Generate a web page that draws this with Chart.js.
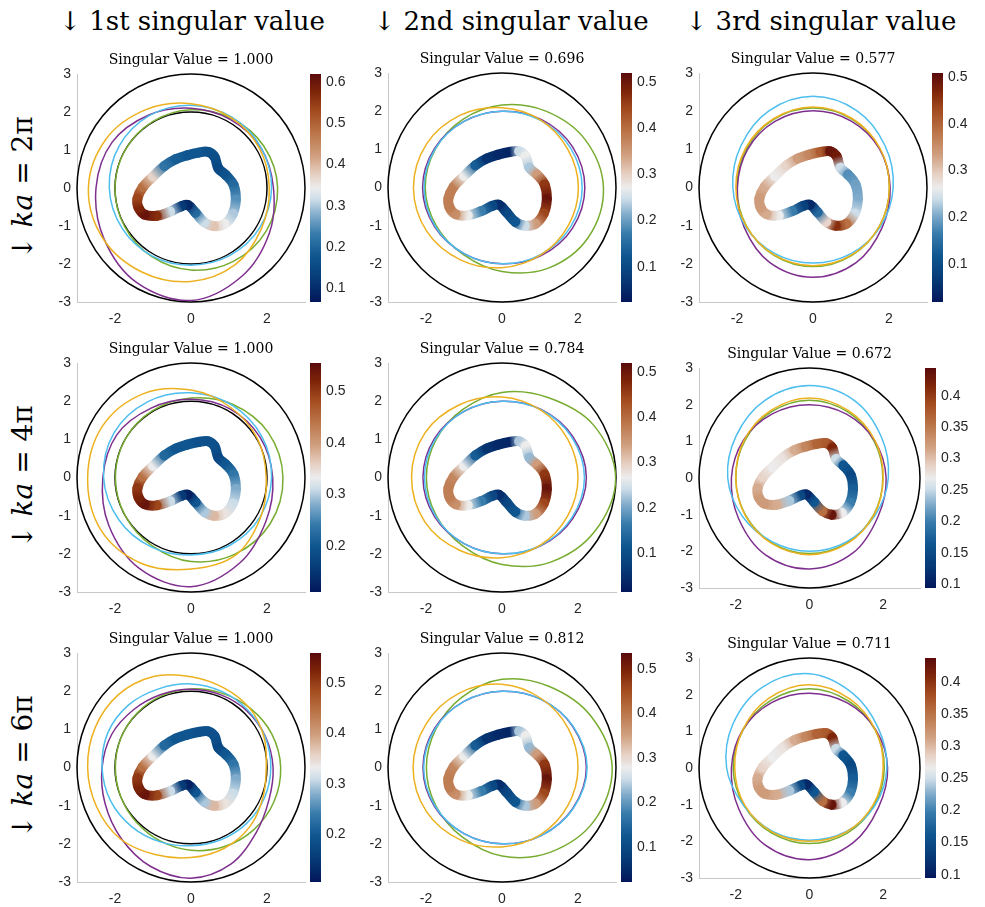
<!DOCTYPE html>
<html>
<head>
<meta charset="utf-8">
<script src="https://cdn.jsdelivr.net/npm/chart.js@4"></script>
<style>
  html, body { margin:0; padding:0; background:#fff; }
  body { width:985px; height:907px; position:relative; overflow:hidden; }
  canvas { position:absolute; }
  .hdr { position:absolute; font-family:'DejaVu Serif', serif; font-size:26px; color:#000; white-space:nowrap; transform:translate(-50%,-50%); line-height:1; }
  .rowlab { position:absolute; font-family:'DejaVu Serif', serif; font-size:28px; color:#000; white-space:nowrap; transform:translate(-50%,-50%) rotate(-90deg); line-height:1; }
</style>
</head>
<body>
<script>
// ---------------- DATA ----------------
const columnHeaders = ['↓ 1st singular value', '↓ 2nd singular value', '↓ 3rd singular value'];
const rowLabels = ['2π', '4π', '6π'];
const singularValues = ['1.000', '0.696', '0.577', '1.000', '0.784', '0.672', '1.000', '0.812', '0.711'];

const xTicks = [-2, 0, 2];
const yTicks = [-3, -2, -1, 0, 1, 2, 3];

// obstacle boundary (thick coloured curve)
const kiteX = [-1.41, -1.27, -1.0, -0.7, -0.4, -0.1, 0.2, 0.45, 0.62, 0.72, 0.92, 1.12, 1.18, 1.1, 0.88, 0.6, 0.35, 0.12, -0.08, -0.25, -0.55, -0.9, -1.22, -1.38];
const kiteY = [-0.28, 0.02, 0.3, 0.58, 0.76, 0.86, 0.93, 0.95, 0.82, 0.52, 0.34, 0.08, -0.3, -0.68, -0.95, -1.0, -0.9, -0.65, -0.45, -0.48, -0.62, -0.73, -0.7, -0.52];

// reference circle radii
const circlesCol1 = [3, 2];
const circlesOther = [3];

// colour values along the boundary
const valR1C1 = [0.537, 0.482, 0.371, 0.221, 0.188, 0.177, 0.177, 0.166, 0.160, 0.149, 0.166, 0.205, 0.249, 0.299, 0.343, 0.387, 0.315, 0.205, 0.094, 0.121, 0.315, 0.565, 0.603, 0.576];
const valR1C2 = [0.380, 0.380, 0.272, 0.133, 0.064, 0.049, 0.044, 0.247, 0.272, 0.232, 0.346, 0.460, 0.504, 0.445, 0.346, 0.247, 0.123, 0.098, 0.054, 0.098, 0.173, 0.272, 0.361, 0.380];
const valR1C3 = [0.337, 0.323, 0.264, 0.288, 0.337, 0.362, 0.410, 0.493, 0.484, 0.240, 0.181, 0.196, 0.205, 0.240, 0.386, 0.459, 0.288, 0.142, 0.044, 0.079, 0.166, 0.264, 0.323, 0.337];
const valR2C1 = [0.502, 0.444, 0.333, 0.221, 0.199, 0.199, 0.190, 0.190, 0.190, 0.177, 0.199, 0.235, 0.279, 0.310, 0.341, 0.377, 0.297, 0.199, 0.123, 0.155, 0.310, 0.488, 0.542, 0.524];
const valR2C2 = [0.378, 0.368, 0.267, 0.125, 0.054, 0.039, 0.034, 0.227, 0.267, 0.216, 0.343, 0.459, 0.505, 0.444, 0.343, 0.227, 0.115, 0.090, 0.044, 0.090, 0.166, 0.267, 0.358, 0.378];
const valR2C3 = [0.311, 0.287, 0.269, 0.276, 0.311, 0.339, 0.367, 0.374, 0.416, 0.252, 0.164, 0.147, 0.171, 0.199, 0.269, 0.434, 0.357, 0.164, 0.112, 0.147, 0.241, 0.311, 0.322, 0.322];
const valR3C1 = [0.505, 0.446, 0.333, 0.219, 0.196, 0.196, 0.187, 0.187, 0.187, 0.173, 0.196, 0.232, 0.278, 0.310, 0.342, 0.378, 0.296, 0.196, 0.119, 0.151, 0.310, 0.492, 0.546, 0.528];
const valR3C2 = [0.392, 0.382, 0.279, 0.134, 0.062, 0.047, 0.042, 0.237, 0.279, 0.227, 0.356, 0.474, 0.521, 0.459, 0.356, 0.237, 0.124, 0.098, 0.052, 0.098, 0.176, 0.279, 0.371, 0.392];
const valR3C3 = [0.307, 0.283, 0.266, 0.273, 0.307, 0.334, 0.362, 0.369, 0.410, 0.249, 0.163, 0.146, 0.170, 0.198, 0.266, 0.427, 0.352, 0.163, 0.112, 0.146, 0.239, 0.307, 0.317, 0.317];

// colour bar ranges and ticks
const rangeR1C1 = [0.066, 0.62];  const cbTicksR1C1 = [0.1, 0.2, 0.3, 0.4, 0.5, 0.6];
const rangeR1C2 = [0.024, 0.519]; const cbTicksR1C2 = [0.1, 0.2, 0.3, 0.4, 0.5];
const rangeR1C3 = [0.02, 0.508];  const cbTicksR1C3 = [0.1, 0.2, 0.3, 0.4, 0.5];
const rangeR2C1 = [0.11, 0.555];  const cbTicksR2C1 = [0.2, 0.3, 0.4, 0.5];
const rangeR2C2 = [0.014, 0.52];  const cbTicksR2C2 = [0.1, 0.2, 0.3, 0.4, 0.5];
const rangeR2C3 = [0.094, 0.444]; const cbTicksR2C3 = [0.1, 0.15, 0.2, 0.25, 0.3, 0.35, 0.4];
const rangeR3C1 = [0.105, 0.56];  const cbTicksR3C1 = [0.2, 0.3, 0.4, 0.5];
const rangeR3C2 = [0.021, 0.536]; const cbTicksR3C2 = [0.1, 0.2, 0.3, 0.4, 0.5];
const rangeR3C3 = [0.095, 0.437]; const cbTicksR3C3 = [0.1, 0.15, 0.2, 0.25, 0.3, 0.35, 0.4];

// far-field curves: radius at equally spaced angles starting at 0 rad (counter-clockwise)
const yelR1C1 = [2.06, 2.08, 2.13, 2.22, 2.38, 2.58, 2.70, 2.67, 2.56, 2.46, 2.33, 2.14];
const cyaR1C1 = [2.12, 2.13, 2.15, 2.18, 2.20, 2.19, 2.15, 2.10, 2.06, 2.03, 2.05, 2.09];
const purR1C1 = [2.17, 2.12, 2.08, 2.10, 2.22, 2.40, 2.50, 2.65, 2.87, 2.96, 2.68, 2.38];
const grnR1C1 = [2.28, 2.21, 2.12, 2.06, 2.02, 2.00, 2.00, 2.02, 2.08, 2.16, 2.23, 2.28];

const yelR1C2 = [2.01, 2.00, 2.04, 2.09, 2.19, 2.29, 2.33, 2.29, 2.19, 2.10, 2.04, 2.01];
const cyaR1C2 = [2.11, 2.08, 2.03, 2.00, 2.00, 2.03, 2.05, 2.03, 2.00, 2.00, 2.03, 2.08];
const purR1C2 = [2.18, 2.14, 2.06, 2.00, 2.00, 2.05, 2.09, 2.05, 2.00, 2.00, 2.06, 2.14];
const grnR1C2 = [2.67, 2.52, 2.31, 2.16, 2.06, 2.02, 2.02, 2.00, 2.03, 2.20, 2.44, 2.62];

const yelR1C3 = [2.01, 2.04, 2.08, 2.11, 2.08, 2.05, 2.03, 2.03, 2.04, 2.05, 2.04, 2.02];
const cyaR1C3 = [2.11, 2.19, 2.32, 2.39, 2.32, 2.19, 2.11, 2.05, 2.00, 1.98, 2.00, 2.05];
const purR1C3 = [2.03, 2.02, 2.01, 2.01, 2.00, 1.99, 1.99, 2.09, 2.27, 2.35, 2.27, 2.10];
const grnR1C3 = [2.01, 2.03, 2.06, 2.08, 2.06, 2.02, 2.00, 2.02, 2.05, 2.07, 2.05, 2.02];

const yelR2C1 = [1.98, 2.02, 2.11, 2.29, 2.53, 2.69, 2.72, 2.74, 2.60, 2.40, 2.35, 2.11];
const cyaR2C1 = [2.12, 2.15, 2.18, 2.22, 2.29, 2.34, 2.30, 2.20, 2.10, 2.03, 2.05, 2.09];
const purR2C1 = [2.15, 2.10, 2.07, 2.05, 2.10, 2.25, 2.32, 2.50, 2.74, 2.86, 2.58, 2.28];
const grnR2C1 = [2.42, 2.35, 2.21, 2.08, 2.02, 2.00, 1.99, 2.00, 2.06, 2.20, 2.32, 2.41];

const yelR2C2 = [2.00, 2.00, 2.04, 2.11, 2.21, 2.34, 2.38, 2.34, 2.21, 2.10, 2.04, 2.00];
const cyaR2C2 = [2.17, 2.12, 2.05, 2.00, 2.00, 2.02, 2.04, 2.02, 2.00, 2.00, 2.05, 2.12];
const purR2C2 = [2.22, 2.15, 2.06, 2.00, 2.00, 2.05, 2.08, 2.05, 2.00, 2.00, 2.06, 2.15];
const grnR2C2 = [2.99, 2.77, 2.42, 2.23, 2.06, 2.00, 1.99, 2.00, 2.07, 2.28, 2.56, 2.82];

const yelR2C3 = [2.00, 2.05, 2.12, 2.18, 2.12, 2.05, 2.00, 2.02, 2.06, 2.09, 2.06, 2.02];
const cyaR2C3 = [2.14, 2.25, 2.44, 2.52, 2.44, 2.30, 2.22, 2.10, 2.01, 2.00, 2.01, 2.05];
const purR2C3 = [2.08, 2.04, 2.01, 2.00, 2.02, 2.07, 2.12, 2.22, 2.41, 2.48, 2.36, 2.14];
const grnR2C3 = [1.99, 2.02, 2.08, 2.12, 2.08, 2.03, 2.00, 2.01, 2.04, 2.06, 2.04, 2.01];

const yelR3C1 = [1.98, 2.08, 2.19, 2.26, 2.38, 2.58, 2.70, 2.73, 2.72, 2.69, 2.64, 2.47, 2.36, 2.29, 2.19, 2.05];
const cyaR3C1 = [2.10, 2.11, 2.12, 2.15, 2.19, 2.23, 2.32, 2.37, 2.34, 2.29, 2.20, 2.11, 2.05, 2.05, 2.07, 2.09];
const purR3C1 = [2.16, 2.12, 2.09, 2.06, 2.05, 2.07, 2.14, 2.26, 2.34, 2.45, 2.61, 2.80, 2.90, 2.74, 2.42, 2.22];
const grnR3C1 = [2.36, 2.30, 2.20, 2.11, 2.06, 2.03, 2.01, 2.00, 1.99, 2.00, 2.03, 2.09, 2.17, 2.25, 2.32, 2.36];

const yelR3C2 = [2.00, 2.02, 2.08, 2.18, 2.25, 2.30, 2.34, 2.30, 2.19, 2.08, 2.03, 2.00];
const cyaR3C2 = [2.24, 2.16, 2.06, 2.00, 2.00, 2.03, 2.06, 2.03, 2.00, 2.00, 2.06, 2.16];
const purR3C2 = [2.22, 2.15, 2.06, 2.00, 2.00, 2.05, 2.08, 2.05, 2.00, 2.00, 2.06, 2.15];
const grnR3C2 = [2.90, 2.70, 2.46, 2.31, 2.12, 2.01, 1.99, 2.01, 2.10, 2.32, 2.56, 2.80];

const yelR3C3 = [2.00, 2.07, 2.18, 2.27, 2.20, 2.09, 2.03, 2.03, 2.02, 2.00, 2.01, 2.00];
const cyaR3C3 = [2.10, 2.16, 2.35, 2.57, 2.55, 2.40, 2.25, 2.06, 2.00, 1.97, 2.00, 2.05];
const purR3C3 = [2.12, 2.08, 2.05, 2.04, 2.06, 2.09, 2.12, 2.22, 2.42, 2.50, 2.36, 2.16];
const grnR3C3 = [2.03, 2.06, 2.11, 2.16, 2.12, 2.08, 2.07, 2.05, 2.05, 2.06, 2.05, 2.03];

// ---------------- STYLE / LAYOUT ----------------
const COL_YEL = '#EDB120', COL_CYA = '#4DBEEE', COL_PUR = '#7E2F8E', COL_GRN = '#77AC30';
const cmapStops = [
  [0.00, [3, 23, 90]], [0.10, [6, 58, 118]], [0.20, [15, 86, 144]], [0.30, [56, 124, 172]],
  [0.38, [128, 171, 203]], [0.45, [205, 221, 232]], [0.50, [236, 236, 236]], [0.56, [230, 207, 194]],
  [0.64, [208, 160, 128]], [0.74, [187, 117, 72]], [0.84, [162, 74, 30]], [0.92, [126, 37, 9]], [1.00, [90, 10, 12]]
];
function cmap(v, lo, hi) {
  let f = (v - lo) / (hi - lo);
  f = Math.max(0, Math.min(1, f));
  for (let i = 1; i < cmapStops.length; i++) {
    if (f <= cmapStops[i][0]) {
      const [f0, c0] = cmapStops[i - 1], [f1, c1] = cmapStops[i];
      const t = (f - f0) / (f1 - f0);
      const c = c0.map((a, k) => Math.round(a + (c1[k] - a) * t));
      return 'rgb(' + c.join(',') + ')';
    }
  }
  return 'rgb(90,10,12)';
}

const LEFT_W = 37, TITLE_H = 34, BOTTOM_H = 30;
const layout = [
  {left: 77,  top: 74,  w: 228, h: 228, cbW: 45},
  {left: 388, top: 73,  w: 228, h: 229, cbW: 45},
  {left: 699, top: 73,  w: 228, h: 229, cbW: 45},
  {left: 77,  top: 363, w: 228, h: 229, cbW: 45},
  {left: 388, top: 363, w: 228, h: 229, cbW: 45},
  {left: 699, top: 368, w: 221, h: 220, cbW: 62},
  {left: 77,  top: 653, w: 228, h: 229, cbW: 45},
  {left: 388, top: 653, w: 228, h: 229, cbW: 45},
  {left: 699, top: 658, w: 221, h: 220, cbW: 62}
];

const panels = [
  {vals: valR1C1, range: rangeR1C1, cbTicks: cbTicksR1C1, curves: [yelR1C1, cyaR1C1, purR1C1, grnR1C1], circles: circlesCol1},
  {vals: valR1C2, range: rangeR1C2, cbTicks: cbTicksR1C2, curves: [yelR1C2, cyaR1C2, purR1C2, grnR1C2], circles: circlesOther},
  {vals: valR1C3, range: rangeR1C3, cbTicks: cbTicksR1C3, curves: [yelR1C3, cyaR1C3, purR1C3, grnR1C3], circles: circlesOther},
  {vals: valR2C1, range: rangeR2C1, cbTicks: cbTicksR2C1, curves: [yelR2C1, cyaR2C1, purR2C1, grnR2C1], circles: circlesCol1},
  {vals: valR2C2, range: rangeR2C2, cbTicks: cbTicksR2C2, curves: [yelR2C2, cyaR2C2, purR2C2, grnR2C2], circles: circlesOther},
  {vals: valR2C3, range: rangeR2C3, cbTicks: cbTicksR2C3, curves: [yelR2C3, cyaR2C3, purR2C3, grnR2C3], circles: circlesOther},
  {vals: valR3C1, range: rangeR3C1, cbTicks: cbTicksR3C1, curves: [yelR3C1, cyaR3C1, purR3C1, grnR3C1], circles: circlesCol1},
  {vals: valR3C2, range: rangeR3C2, cbTicks: cbTicksR3C2, curves: [yelR3C2, cyaR3C2, purR3C2, grnR3C2], circles: circlesOther},
  {vals: valR3C3, range: rangeR3C3, cbTicks: cbTicksR3C3, curves: [yelR3C3, cyaR3C3, purR3C3, grnR3C3], circles: circlesOther}
];
const curveColors = [COL_YEL, COL_CYA, COL_PUR, COL_GRN];

// ---------------- HEADERS ----------------
const hdrX = [192, 511, 821];
columnHeaders.forEach((t, i) => {
  const d = document.createElement('div');
  d.className = 'hdr'; d.textContent = t;
  d.style.left = hdrX[i] + 'px'; d.style.top = '21px';
  document.body.appendChild(d);
});
const rowY = [188, 477, 767];
rowLabels.forEach((t, i) => {
  const d = document.createElement('div');
  d.className = 'rowlab';
  d.innerHTML = '↓ <i>ka</i> = ' + t;
  d.style.left = '23px'; d.style.top = rowY[i] + 'px';
  document.body.appendChild(d);
});

// ---------------- PLUGINS ----------------
const circlePlugin = {
  id: 'refCircles',
  beforeDatasetsDraw(chart, args, opts) {
    const xs = chart.scales.x, ys = chart.scales.y, ctx = chart.ctx;
    const cx = xs.getPixelForValue(0), cy = ys.getPixelForValue(0);
    ctx.save();
    ctx.strokeStyle = '#000'; ctx.lineWidth = 1.5;
    for (const r of opts.radii) {
      const rx = xs.getPixelForValue(r) - cx, ry = cy - ys.getPixelForValue(r);
      ctx.beginPath(); ctx.ellipse(cx, cy, rx, ry, 0, 0, Math.PI * 2); ctx.stroke();
    }
    ctx.restore();
  }
};
const colorbarPlugin = {
  id: 'colorbar',
  afterDraw(chart) {
    const s = chart.scales.cb, ctx = chart.ctx;
    ctx.save();
    for (let py = Math.round(s.top); py < Math.round(s.bottom); py++) {
      ctx.fillStyle = cmap(s.getValueForPixel(py + 0.5), s.min, s.max);
      ctx.fillRect(Math.round(s.left) + 5, py, 11, 1);
    }
    ctx.restore();
  }
};

// ---------------- CHARTS ----------------
const TRANSPARENT = 'rgba(0,0,0,0)';
function wrapIdx(n) { const a = [n - 1]; for (let i = 0; i < n; i++) a.push(i); a.push(0, 1); return a; }

panels.forEach((p, k) => {
  const L = layout[k];
  const cw = LEFT_W + L.w + L.cbW, ch = TITLE_H + L.h + BOTTOM_H;
  const cv = document.createElement('canvas');
  cv.width = cw; cv.height = ch;
  cv.style.left = (L.left - LEFT_W) + 'px'; cv.style.top = (L.top - TITLE_H) + 'px';
  cv.style.width = cw + 'px'; cv.style.height = ch + 'px';
  document.body.appendChild(cv);

  const datasets = [];
  // boundary with colour values
  const ki = wrapIdx(kiteX.length);
  const kvals = ki.map(i => p.vals[i]);
  const last = ki.length - 1;
  datasets.push({
    data: ki.map(i => ({x: kiteX[i], y: kiteY[i]})),
    showLine: true, pointRadius: 0, borderWidth: 10, tension: 0.4,
    borderCapStyle: 'round', borderJoinStyle: 'round', borderColor: '#888',
    segment: {
      borderColor: c => {
        if (!c.p0 || !c.p1) return undefined;
        if (c.p0DataIndex === 0 || c.p1DataIndex === last) return TRANSPARENT;
        const g = c.chart.ctx.createLinearGradient(c.p0.x, c.p0.y, c.p1.x, c.p1.y);
        g.addColorStop(0, cmap(kvals[c.p0DataIndex], p.range[0], p.range[1]));
        g.addColorStop(1, cmap(kvals[c.p1DataIndex], p.range[0], p.range[1]));
        return g;
      },
      borderDashOffset: c => (c.p0DataIndex || 0) * 0.001
    }
  });
  // far-field curves
  p.curves.forEach((radii, j) => {
    const n = radii.length;
    const idx = wrapIdx(n);
    const lastC = idx.length - 1;
    const col = curveColors[j];
    datasets.push({
      data: idx.map(i => { const t = 2 * Math.PI * i / n; return {x: radii[i] * Math.cos(t), y: radii[i] * Math.sin(t)}; }),
      showLine: true, pointRadius: 0, borderWidth: 1.5, tension: 0.35, borderColor: col,
      borderJoinStyle: 'round',
      segment: {
        borderColor: c => (c.p0DataIndex === 0 || c.p1DataIndex === lastC) ? TRANSPARENT : col
      }
    });
  });

  const tickFont = {family: "'Liberation Sans', Arial, sans-serif", size: 14};
  new Chart(cv, {
    type: 'scatter',
    data: {datasets},
    options: {
      responsive: false, maintainAspectRatio: false, animation: false, events: [],
      layout: {padding: 0},
      plugins: {
        legend: {display: false}, tooltip: {enabled: false},
        title: {display: true, fullSize: false, text: 'Singular Value = ' + singularValues[k],
                font: {family: "'DejaVu Serif', serif", size: 14, weight: 'normal', lineHeight: 1.2},
                color: '#000', padding: {top: 12, bottom: 5.2}},
        refCircles: {radii: p.circles}
      },
      scales: {
        x: {type: 'linear', position: 'bottom', min: -3, max: 3,
            afterBuildTicks: s => { s.ticks = xTicks.map(v => ({value: v})); },
            afterFit: s => { s.height = BOTTOM_H; },
            grid: {display: false, drawTicks: false},
            border: {display: true, color: '#c8c8c8', width: 1},
            ticks: {font: tickFont, color: '#262626', padding: 9, autoSkip: false, maxRotation: 0, callback: v => String(v)}},
        y: {type: 'linear', position: 'left', min: -3, max: 3,
            afterBuildTicks: s => { s.ticks = yTicks.map(v => ({value: v})); },
            afterFit: s => { s.width = LEFT_W; },
            grid: {display: false, drawTicks: false},
            border: {display: true, color: '#c8c8c8', width: 1},
            ticks: {font: tickFont, color: '#262626', padding: 6, autoSkip: false, callback: v => String(v)}},
        cb: {type: 'linear', position: 'right', min: p.range[0], max: p.range[1],
             afterBuildTicks: s => { s.ticks = p.cbTicks.map(v => ({value: v})); },
             afterFit: s => { s.width = L.cbW; },
             grid: {display: true, drawOnChartArea: false, drawTicks: true, tickLength: 16, color: TRANSPARENT},
             border: {display: false},
             ticks: {font: tickFont, color: '#262626', padding: 5, autoSkip: false, callback: v => String(v)}}
      }
    },
    plugins: [circlePlugin, colorbarPlugin]
  });
});
</script>
</body>
</html>
